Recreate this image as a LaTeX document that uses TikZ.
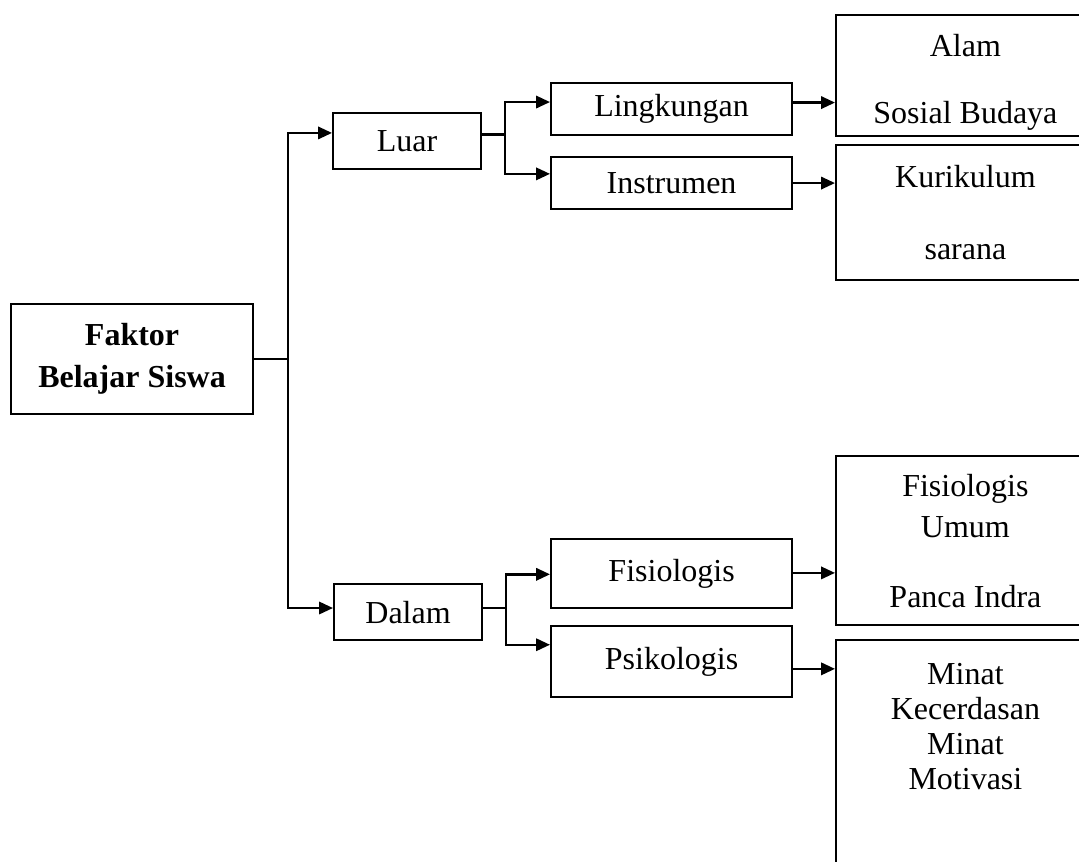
\documentclass[tikz,border=0pt]{standalone}
\usepackage{fontspec}
\setmainfont{Liberation Serif}
\usepackage{tikz}
\usetikzlibrary{calc}
\usetikzlibrary{arrows.meta, positioning}
\tikzset{
  BOX/.style={% Style for the small boxes
      rectangle, line width=0.8pt,
      anchor=north west,
      align=center,
      draw=black,
      font=\fontsize{12}{13.5}\selectfont,
  },
  FAC/.style={% Style for the main box
      BOX,
      font=\fontsize{12}{13.5}\selectfont\bfseries,
  },
  LST/.style={% Style for the list boxes at the right
      BOX,
      minimum width=97pt,
  },
  LNK/.style={line width=0.9pt},
  ARR/.style={LNK, -{Triangle[length=5.2pt,width=4.6pt]}},
}
\def\conn#1#2#3{%
  \draw[ARR] ($(#1.north east)!#3!(#1.south east)$) coordinate (c#1) -- (#2.west |- c#1);
}

\begin{document}
\begin{tikzpicture}[x=0.375pt, y=-0.375pt]
  \useasboundingbox (0,0) rectangle (1079,861);
  \clip (0,0) rectangle (1079,861);

  % root
  \node[FAC, minimum width=90.75pt, minimum height=41.25pt] (faktor) at (10,303)
    {Faktor\\[2.25pt]Belajar Siswa};

  % second level
  \node[BOX, minimum width=55.5pt, minimum height=21pt] (luar) at (332,112) {Luar};
  \node[BOX, minimum width=55.5pt, minimum height=21pt] (dalam) at (333,583) {Dalam};

  % third level
  \node[BOX, minimum width=90.4pt, minimum height=19.5pt] (lingk) at (550,82) {Lingkungan};
  \node[BOX, minimum width=90.4pt, minimum height=19.5pt] (instr) at (550,156) {Instrumen};
  \node[BOX, minimum width=90.4pt, minimum height=25.9pt] (fisio) at (550,538) {Fisiologis};
  \node[BOX, minimum width=90.4pt, minimum height=26.6pt] (psiko) at (550,625) {Psikologis};

  % lists
  \node[LST, minimum height=45.4pt, inner ysep=2pt] (alam) at (835,14)
    {\rule{0pt}{13.5pt}Alam\\[11.6pt]Sosial Budaya};
  \node[LST, minimum height=50.6pt] (kurik) at (835,144) {Kurikulum\\[13.5pt]sarana};
  \node[LST, minimum height=63.4pt] (fumum) at (835,455)
    {Fisiologis\\[1.9pt]Umum\\[12.75pt]Panca Indra};
  \node[LST, inner ysep=8.6pt, font=\fontsize{12}{13.1}\selectfont] (minat) at (835,639)
    {Minat\\Kecerdasan\\Minat\\Motivasi\\\rule{0pt}{45pt}};

  % links
  \draw[LNK] (faktor.east) -- ++(34,0) coordinate (jF);
  \draw[ARR] (jF) |- ($(luar.north west)!0.36!(luar.south west)$);
  \draw[ARR] (jF) |- ($(dalam.north west)!0.43!(dalam.south west)$);

  \draw[LNK] ($(luar.north east)!0.39!(luar.south east)$) -- ++(23,0) coordinate (jL);
  \draw[ARR] (jL) |- ($(lingk.north west)!0.37!(lingk.south west)$);
  \draw[ARR] (jL) |- ($(instr.north west)!0.33!(instr.south west)$);

  \draw[LNK] ($(dalam.north east)!0.43!(dalam.south east)$) -- ++(23,0) coordinate (jD);
  \draw[ARR] (jD) |- ($(fisio.north west)!0.51!(fisio.south west)$);
  \draw[ARR] (jD) |- ($(psiko.north west)!0.27!(psiko.south west)$);

  \conn{lingk}{alam}{0.38}
  \conn{instr}{kurik}{0.5}
  \conn{fisio}{fumum}{0.49}
  \conn{psiko}{minat}{0.6}
\end{tikzpicture}
\end{document}
